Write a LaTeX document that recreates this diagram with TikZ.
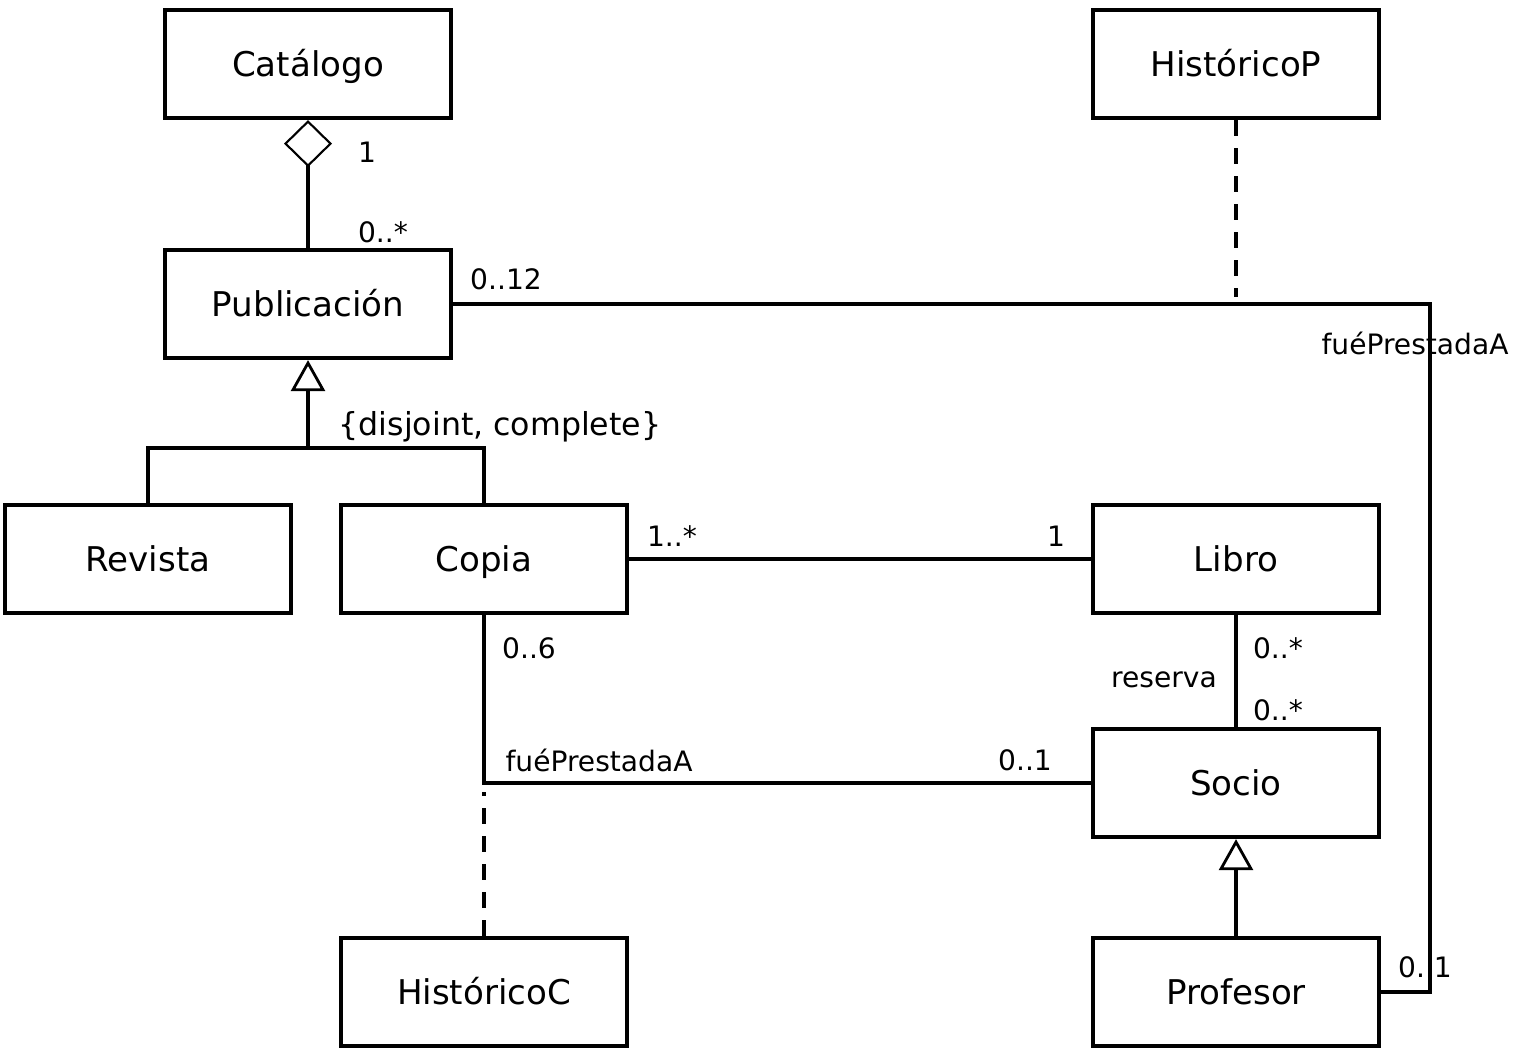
\documentclass[tikz,border=0pt]{standalone}
\usepackage{fontspec}
\setmainfont{DejaVu Sans}
\usetikzlibrary{arrows.meta}

\begin{document}
\begin{tikzpicture}[x=0.1mm, y=-0.1mm, line width=1.2pt,
  box/.style={draw, minimum width=28.6mm, minimum height=10.8mm, inner sep=0pt,
              text height=1.33ex, text depth=0pt,
              font=\fontsize{9.7}{11}\selectfont},
  lbl/.style={inner sep=0pt, font=\fontsize{8}{10}\selectfont},
  gen/.style={-{Triangle[open, length=3.1mm, width=3.4mm, line width=0.8pt]}},
  agg/.style={-{Diamond[open, length=4.7mm, width=4.8mm, line width=0.6pt]}},
  assoc/.style={dash pattern=on 1.6mm off 1.2mm}]

  \useasboundingbox (0,0) rectangle (1518,1052);

  % classes
  \node [box] (cat)  at (308,  64)  {Catálogo};
  \node [box] (hp)   at (1236, 64)  {HistóricoP};
  \node [box] (pub)  at (308,  304) {Publicación};
  \node [box] (rev)  at (148,  559) {Revista};
  \node [box] (cop)  at (484,  559) {Copia};
  \node [box] (lib)  at (1236, 559) {Libro};
  \node [box] (soc)  at (1236, 783) {Socio};
  \node [box] (hc)   at (484,  992) {HistóricoC};
  \node [box] (prof) at (1236, 992) {Profesor};

  % bends of the connectors
  \coordinate (g1)  at (308,  448);
  \coordinate (pp)  at (1430, 304);
  \coordinate (hpa) at (1236, 297);
  \coordinate (hca) at (484,  792);

  % aggregation
  \draw [agg]   (pub.north) -- (cat.south);

  % generalizations
  \draw         (rev.north) |- (g1) -| (cop.north);
  \draw [gen]   (g1) -- (pub.south);
  \draw [gen]   (prof.north) -- (soc.south);

  % associations
  \draw         (pub.east) -- (pp) |- (prof.east);
  \draw         (cop.east) -- (lib.west);
  \draw         (cop.south) |- (soc.west);
  \draw         (lib.south) -- (soc.north);

  % association classes
  \draw [assoc] (hp.south) -- (hpa);
  \draw [assoc] (hc.north) -- (hca);

  % multiplicities and names
  \node [lbl] (m1)  at (367,  152) {1};
  \node [lbl] (m2)  at (383,  232) {0..*};
  \node [lbl] (m3)  at (506,  279) {0..12};
  \node [lbl] (n1)  at (1415, 343) {fuéPrestadaA};
  \node [lbl] (m4)  at (1425, 967) {0..1};
  \node [lbl, font=\fontsize{9}{11}\selectfont] (ds) at (500, 427) {\{disjoint, complete\}};
  \node [lbl] (m5)  at (672,  536) {1..*};
  \node [lbl] (m6)  at (1056, 536) {1};
  \node [lbl] (m7)  at (529,  648) {0..6};
  \node [lbl] (n2)  at (599,  760) {fuéPrestadaA};
  \node [lbl] (m8)  at (1025, 760) {0..1};
  \node [lbl] (n3)  at (1164, 680) {reserva};
  \node [lbl] (m9)  at (1278, 648) {0..*};
  \node [lbl] (m10) at (1278, 710) {0..*};

\end{tikzpicture}
\end{document}
